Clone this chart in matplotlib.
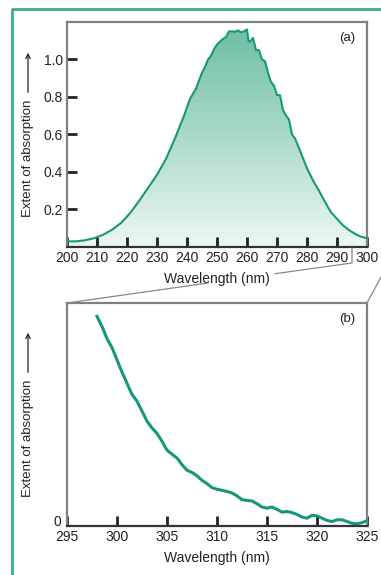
import numpy as np
import matplotlib
matplotlib.use("Agg")
import matplotlib.pyplot as plt
from matplotlib.lines import Line2D
from matplotlib.patches import FancyArrowPatch
from matplotlib.colors import LinearSegmentedColormap

# ---- data ----
wl_a = [200, 203, 206, 209, 212, 215, 218, 221, 224, 227, 230, 233, 236, 239,
        241, 243, 245, 246, 247, 248, 249, 250, 251, 252, 253, 254, 255, 256,
        257, 258, 259, 260, 260.5, 261, 262, 263, 264, 265, 266, 267, 268, 269,
        270, 271, 272, 273, 274, 275, 276, 278, 280, 282, 284, 286, 288, 290,
        292, 294, 296, 298, 300]
abs_a = [0.030, 0.030, 0.036, 0.047, 0.065, 0.092, 0.128, 0.180, 0.245, 0.315,
         0.385, 0.470, 0.580, 0.700, 0.790, 0.845, 0.930, 0.960, 1.000, 1.020,
         1.055, 1.080, 1.095, 1.110, 1.120, 1.150, 1.150, 1.148, 1.155, 1.145,
         1.150, 1.160, 1.100, 1.095, 1.115, 1.050, 1.050, 1.000, 0.990, 0.930,
         0.880, 0.860, 0.810, 0.810, 0.730, 0.700, 0.680, 0.600, 0.580, 0.500,
         0.420, 0.355, 0.300, 0.240, 0.185, 0.150, 0.115, 0.090, 0.070, 0.055,
         0.047]

wl_b = [298, 298.5, 299, 299.5, 300, 300.5, 301, 301.5, 302, 302.5, 303, 303.5,
        304, 304.5, 305, 305.5, 306, 306.5, 307, 307.5, 308, 308.5, 309, 309.5,
        310, 310.5, 311, 311.5, 312, 312.5, 313, 313.5, 314, 314.5, 315, 315.5,
        316, 316.5, 317, 317.5, 318, 318.5, 319, 319.5, 320, 320.5, 321, 321.5,
        322, 322.5, 323, 323.5, 324, 324.5, 325]
abs_b = [0.940, 0.895, 0.840, 0.800, 0.745, 0.690, 0.640, 0.590, 0.560, 0.515,
         0.470, 0.440, 0.415, 0.380, 0.340, 0.322, 0.305, 0.275, 0.250, 0.240,
         0.225, 0.205, 0.190, 0.172, 0.165, 0.160, 0.155, 0.148, 0.135, 0.118,
         0.115, 0.112, 0.100, 0.085, 0.080, 0.085, 0.075, 0.062, 0.065, 0.060,
         0.052, 0.040, 0.035, 0.048, 0.045, 0.035, 0.025, 0.020, 0.028, 0.028,
         0.020, 0.012, 0.010, 0.015, 0.024]

ticks_a = [200, 210, 220, 230, 240, 250, 260, 270, 280, 290, 300]
yticks_a = [0.2, 0.4, 0.6, 0.8, 1.0]
ticks_b = [295, 300, 305, 310, 315, 320, 325]

W, H = 381, 575
TEAL = "#17977a"
FRAME = "#3dab8c"
BOX = "#808080"
INK = "#222222"
plt.rcParams["font.family"] = ["Liberation Sans", "DejaVu Sans"]

fig = plt.figure(figsize=(W / 100, H / 100), dpi=100)


def px_axes(l, t, r, b):
    return fig.add_axes([l / W, 1 - b / H, (r - l) / W, (b - t) / H])


def style_box(ax):
    for s in ("left", "top", "right"):
        ax.spines[s].set_color(BOX)
        ax.spines[s].set_linewidth(1.6)
    ax.spines["bottom"].set_color("#333333")
    ax.spines["bottom"].set_linewidth(1.6)
    ax.tick_params(direction="in", length=7, width=2, color=INK,
                   labelsize=10, pad=3, labelcolor=INK)


# ---- panel (a) ----
ax1 = px_axes(67, 22, 367, 247)
ax1.set_xlim(200, 300)
ax1.set_ylim(0, 1.2)
grad = LinearSegmentedColormap.from_list("g", ["#edf7f4", "#a9d9c9", "#6cbda2"])
img = ax1.imshow(np.linspace(0, 1, 256).reshape(-1, 1), cmap=grad, origin="lower",
                 extent=[200, 300, 0, 1.2], aspect="auto", zorder=1)
poly = ax1.fill_between(wl_a, abs_a, 0, color="none", lw=0)
img.set_clip_path(poly.get_paths()[0], transform=ax1.transData)
ax1.plot(wl_a, abs_a, color=TEAL, lw=1.5, zorder=3)
ax1.set_xticks(ticks_a)
ax1.set_yticks(yticks_a)
ax1.set_yticklabels([f"{v:.1f}" for v in yticks_a])
ax1.set_xlabel("Wavelength (nm)", fontsize=10, labelpad=5, color=INK)
ax1.text(0.96, 0.955, "(a)", transform=ax1.transAxes, ha="right", va="top",
         fontsize=9.5, color=INK)
style_box(ax1)

# ---- panel (b) ----
ax2 = px_axes(67, 303, 367, 526)
ax2.set_xlim(295, 325)
ax2.set_ylim(0, 1)
ax2.plot(wl_b, abs_b, color=TEAL, lw=2.2, zorder=3)
ax2.set_xticks(ticks_b)
ax2.set_yticks([0])
style_box(ax2)
ax2.tick_params(axis="y", length=0, pad=4)
for lab in ax2.get_yticklabels():
    lab.set_verticalalignment("baseline")
ax2.set_xlabel("Wavelength (nm)", fontsize=10, labelpad=5, color=INK)
ax2.text(0.96, 0.955, "(b)", transform=ax2.transAxes, ha="right", va="top",
         fontsize=9.5, color=INK)

# ---- y labels with arrows ----
for (ybot, ytop, yarr0, yarr1) in [(217, 100, 95, 50), (497, 380, 375, 330)]:
    fig.text(28 / W, 1 - (ybot + ytop) / 2 / H, "Extent of absorption",
             rotation=90, ha="center", va="center", fontsize=9.5, color=INK)
    fig.add_artist(FancyArrowPatch(
        (28 / W, 1 - yarr0 / H), (28 / W, 1 - yarr1 / H), transform=fig.transFigure,
        arrowstyle="->", mutation_scale=8, lw=0.9, color=INK))


# ---- zoom connector lines and outer frame ----
def fig_line(xs, ys, **kw):
    fig.add_artist(Line2D([x / W for x in xs], [1 - y / H for y in ys],
                          transform=fig.transFigure, **kw))


fig_line([352, 352, 275], [248, 263, 273.7], color="#888888", lw=0.9)
fig_line([208, 67], [283, 303], color="#888888", lw=0.9)
fig_line([367, 381], [303, 277], color="#888888", lw=0.9)
fig_line([12, 12, 381], [575, 9, 9], color=FRAME, lw=2)

fig.savefig("out.png", dpi=100)
